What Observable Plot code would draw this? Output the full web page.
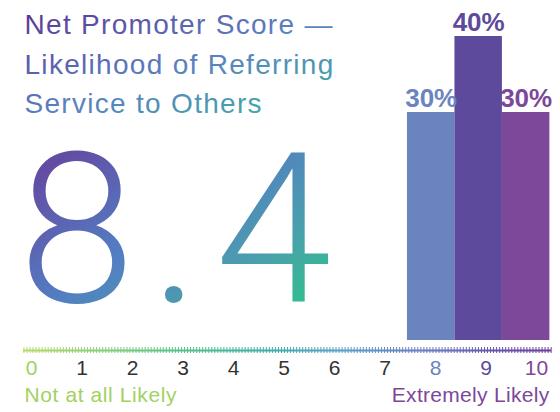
<!DOCTYPE html>
<html>
<head>
<meta charset="utf-8">
<script src="https://cdn.jsdelivr.net/npm/d3@7"></script>
<script src="https://cdn.jsdelivr.net/npm/@observablehq/plot@0.6"></script>
<style>
  html, body { margin: 0; padding: 0; background: #ffffff; }
</style>
</head>
<body>
<div id="chart"></div>
<script>
// ---- data ----
const titleLines = ["Net Promoter Score \u2014", "Likelihood of Referring", "Service to Others"];
const averageScore = [8.4];
const scores = [8, 9, 10];
const shares = [30, 40, 30];
const tickValues = [0, 1, 2, 3, 4, 5, 6, 7, 8, 9, 10];
const tickLabels = ["0", "1", "2", "3", "4", "5", "6", "7", "8", "9", "10"];
const lowLabel = ["Not at all Likely"];
const highLabel = ["Extremely Likely"];

const bars = scores.map((s, i) => ({score: s, share: shares[i]}));
const ticks = tickValues.map((v, i) => ({score: v, label: tickLabels[i]}));
const minorTicks = d3.range(-0.15, 10.3, 0.06);

// bars in the reference are slightly narrower than one score unit and packed side by side
const BAR_W = 0.94;
const barLeft = s => s - 0.555 - (s - scores[0]) * (1 - BAR_W);

const FONT = "'Liberation Sans', Arial, sans-serif";

const svg = Plot.plot({
  width: 560,
  height: 412,
  marginLeft: 23,
  marginRight: 9,
  marginTop: 0,
  marginBottom: 59,
  style: {fontFamily: FONT, background: "#ffffff"},
  x: {domain: [0, 10], range: [31, 536], axis: null},
  y: {domain: [0, 40], range: [340, 36], axis: null},
  color: {
    type: "ordinal",
    domain: tickValues,
    range: ["#a3d15f", "#333333", "#333333", "#333333", "#333333", "#333333", "#333333", "#333333", "#6b84c0", "#5e4a9c", "#7d479a"]
  },
  marks: [
    // title
    Plot.text([titleLines.join("\n")], {
      text: d => d, frameAnchor: "top-left", textAnchor: "start", lineAnchor: "top",
      dx: 1, dy: 6, fontSize: 28, lineHeight: 1.4, fill: "url(#titleGrad)"
    }),
    // big average score
    Plot.text(averageScore, {
      text: d => d.toFixed(1), frameAnchor: "top-left", textAnchor: "start", lineAnchor: "top",
      dx: -5, dy: 152, fontSize: 210, fontWeight: 300, fill: "url(#scoreGrad)",
      fontFamily: "Roboto, 'Liberation Sans', sans-serif"
    }),
    // bars
    Plot.rectY(bars, {x1: d => barLeft(d.score), x2: d => barLeft(d.score) + BAR_W, y: "share", fill: "score", inset: 0}),
    Plot.text(bars, {
      x: d => barLeft(d.score) + BAR_W / 2, y: "share", text: d => d.share + "%", fill: "score",
      lineAnchor: "bottom", dy: -6, fontSize: 26, fontWeight: "bold"
    }),
    // axis line & minor ticks
    Plot.ruleX(minorTicks, {x: d => d, y1: -0.92, y2: -1.71, stroke: "url(#axisGrad)", strokeWidth: 1}),
    Plot.ruleY([0], {dy: 10, stroke: "url(#axisGrad)", strokeWidth: 2}),
    // tick labels
    Plot.text(ticks, {x: "score", y: 0, text: "label", fill: "score", lineAnchor: "top", dy: 20, fontSize: 21}),
    // end labels
    Plot.text(lowLabel, {text: d => d, frameAnchor: "bottom-left", textAnchor: "start", lineAnchor: "top", dx: 1, dy: 34, fontSize: 21, fill: "#a3d15f"}),
    Plot.text(highLabel, {text: d => d, frameAnchor: "bottom-right", textAnchor: "end", lineAnchor: "top", dx: -2, dy: 34, fontSize: 21, fill: "#7d479a"})
  ]
});

const root = d3.select(svg);
root.select('g[fill="url(#titleGrad)"]').attr("letter-spacing", "1.3px");
root.select('g[fill="url(#scoreGrad)"]').attr("letter-spacing", "15px");
root.select('g[fill="#a3d15f"]').attr("letter-spacing", "0.6px");
root.select('g[fill="#7d479a"]').attr("letter-spacing", "0.3px");

const defs = root.insert("defs", ":first-child");
function grad(id, attrs, stops) {
  const g = defs.append("linearGradient").attr("id", id);
  Object.entries(attrs).forEach(([k, v]) => g.attr(k, v));
  stops.forEach(([o, c]) => g.append("stop").attr("offset", o).attr("stop-color", c));
}
grad("titleGrad", {x1: 0, y1: 0, x2: 1, y2: 1}, [[0, "#5b3592"], [0.5, "#5a7fc0"], [1, "#3db5a0"]]);
grad("scoreGrad", {x1: 0, y1: 0, x2: 1, y2: 1}, [[0.05, "#6a3897"], [0.45, "#537ec2"], [0.68, "#4aa0ac"], [0.86, "#2ec28a"]]);
grad("axisGrad", {gradientUnits: "userSpaceOnUse", x1: 23, y1: 0, x2: 551, y2: 0},
  [[0, "#b9da6b"], [0.3, "#58c28a"], [0.45, "#3fb0a8"], [0.6, "#5aa0c8"], [0.75, "#6a80c0"], [0.9, "#6655aa"], [1, "#6b3d98"]]);

document.getElementById("chart").appendChild(svg);
</script>
</body>
</html>
